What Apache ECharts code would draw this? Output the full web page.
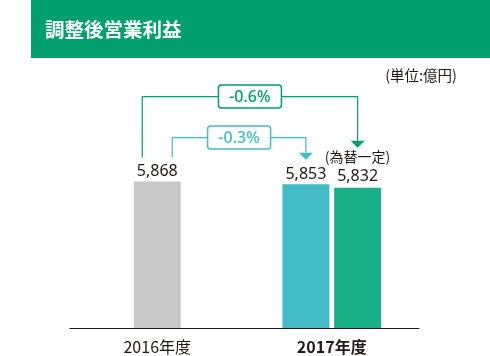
<!DOCTYPE html>
<html><head><meta charset="utf-8">
<script src="https://cdn.jsdelivr.net/npm/echarts@6/dist/echarts.min.js"></script>
<style>html,body{margin:0;padding:0;background:#fff}#c{width:490px;height:356px}</style>
</head><body><div id="c"></div>
<script>
var title = '調整後営業利益';
var unitLabel = '(単位:億円)';
var categories = ['2016年度', '2017年度'];
var values2016 = [5868, '-'];
var values2017 = ['-', 5853];
var values2017Const = ['-', 5832];
var constNote = '(為替一定)';

var FONT = '"Noto Sans", "Noto Sans CJK JP", sans-serif';
var CJK = '"Noto Sans CJK JP", sans-serif';
var GREEN = '#00a06e', TEAL = '#44bdc6', GREEN_BAR = '#1ab189', GRAY = '#c9c9c9', TXT = '#231815';

function fmt(v){ return String(v).replace(/\B(?=(\d{3})+(?!\d))/g, ','); }

var chart = echarts.init(document.getElementById('c'), null, {renderer:'canvas'});
var barW = 47;
chart.setOption({
  animation: false,
  grid: {left: 70, right: 71, top: 75, bottom: 28},
  xAxis: [{
    type: 'category', data: categories,
    axisLine: {lineStyle: {color: TXT, width: 1}},
    axisTick: {show: false},
    axisLabel: {
      margin: 11, fontSize: 16, color: TXT, fontFamily: CJK,
      formatter: function(v, i){ return i === 1 ? '{b|' + v + '}' : v; },
      rich: {b: {fontSize: 16, fontWeight: 'bold', color: TXT, fontFamily: CJK}}
    }
  }, {
    type: 'category', data: categories, show: false, position: 'bottom'
  }],
  yAxis: {type: 'value', min: 5000, max: 6500, show: false},
  series: [{
    type: 'bar', xAxisIndex: 0, data: values2016, barWidth: barW,
    itemStyle: {color: GRAY},
    label: {show: true, position: 'top', distance: 2, fontSize: 16, color: TXT, fontFamily: FONT,
      formatter: function(p){ return fmt(p.value); }}
  }, {
    type: 'bar', xAxisIndex: 1, data: values2017, barWidth: barW, barGap: '10%',
    itemStyle: {color: TEAL},
    label: {show: true, position: 'top', distance: 2, fontSize: 16, color: TXT, fontFamily: FONT,
      formatter: function(p){ return fmt(p.value); }}
  }, {
    type: 'bar', xAxisIndex: 1, data: values2017Const, barWidth: barW, barGap: '10%',
    itemStyle: {color: GREEN_BAR},
    label: {show: true, position: 'top', distance: 2, color: TXT,
      formatter: function(p){ return '{n|' + constNote + '}\n{v|' + fmt(p.value) + '}'; },
      rich: {
        n: {fontSize: 14, fontFamily: CJK, color: TXT, lineHeight: 19},
        v: {fontSize: 16, fontFamily: FONT, color: TXT, lineHeight: 19}
      }}
  }]
});

// annotations derived from data via the chart's scales
var c16 = chart.convertToPixel({xAxisIndex: 0}, categories[0]);
var c17 = chart.convertToPixel({xAxisIndex: 1}, categories[1]);
var half = (barW + barW * 0.1) / 2;
var xTeal = c17 - half, xGreen = c17 + half;
var yGray = chart.convertToPixel({yAxisIndex: 0}, values2016[0]);
var yTeal = chart.convertToPixel({yAxisIndex: 0}, values2017[1]);
var yGreen = chart.convertToPixel({yAxisIndex: 0}, values2017Const[1]);

function pct(a, b){ var p = (b / a - 1) * 100; return (p < 0 ? '-' : '+') + Math.abs(p).toFixed(1) + '%'; }

function bracket(x1, x2, yTop, yLeftBottom, yArrowTip, color, text){
  var els = [];
  var arrowH = 7, arrowW = 7;
  els.push({type: 'polyline', shape: {points: [[x1, yLeftBottom], [x1, yTop], [x2, yTop], [x2, yArrowTip - arrowH]]}, style: {stroke: color, lineWidth: 1.2, fill: null}, z: 10});
  els.push({type: 'polygon', shape: {points: [[x2 - arrowW, yArrowTip - arrowH], [x2 + arrowW, yArrowTip - arrowH], [x2, yArrowTip]]}, style: {fill: color}, z: 10});
  var cx = (x1 + x2) / 2, bw = 63, bh = 23;
  els.push({type: 'rect', shape: {x: cx - bw / 2, y: yTop - bh / 2, width: bw, height: bh, r: 3}, style: {fill: '#fff', stroke: color, lineWidth: 1.5}, z: 11});
  els.push({type: 'text', style: {text: text, x: cx, y: yTop + 0.5, textAlign: 'center', textVerticalAlign: 'middle', align: 'center', verticalAlign: 'middle', fill: color, font: '500 16px ' + FONT}, z: 12});
  return els;
}

var g = [];
g.push({type: 'rect', shape: {x: 31, y: 0, width: 459, height: 58}, style: {fill: GREEN}, z: 1});
g.push({type: 'text', style: {text: title, x: 45, y: 30, textAlign: 'left', textVerticalAlign: 'middle', align: 'left', verticalAlign: 'middle', fill: '#fff', font: 'bold 19.5px ' + CJK}, z: 2});
g.push({type: 'text', style: {text: unitLabel, x: 457, y: 75, textAlign: 'right', textVerticalAlign: 'middle', align: 'right', verticalAlign: 'middle', fill: TXT, font: '14.5px ' + CJK}, z: 2});
g = g.concat(bracket(c16 - 15, xGreen, yGray - 85, yGray - 24, yGreen - 40, GREEN, pct(values2016[0], values2017Const[1])));
g = g.concat(bracket(c16 + 15, xTeal, yGray - 44, yGray - 24, yTeal - 24.5, TEAL, pct(values2016[0], values2017[1])));
chart.setOption({graphic: {elements: g}});
</script></body></html>
